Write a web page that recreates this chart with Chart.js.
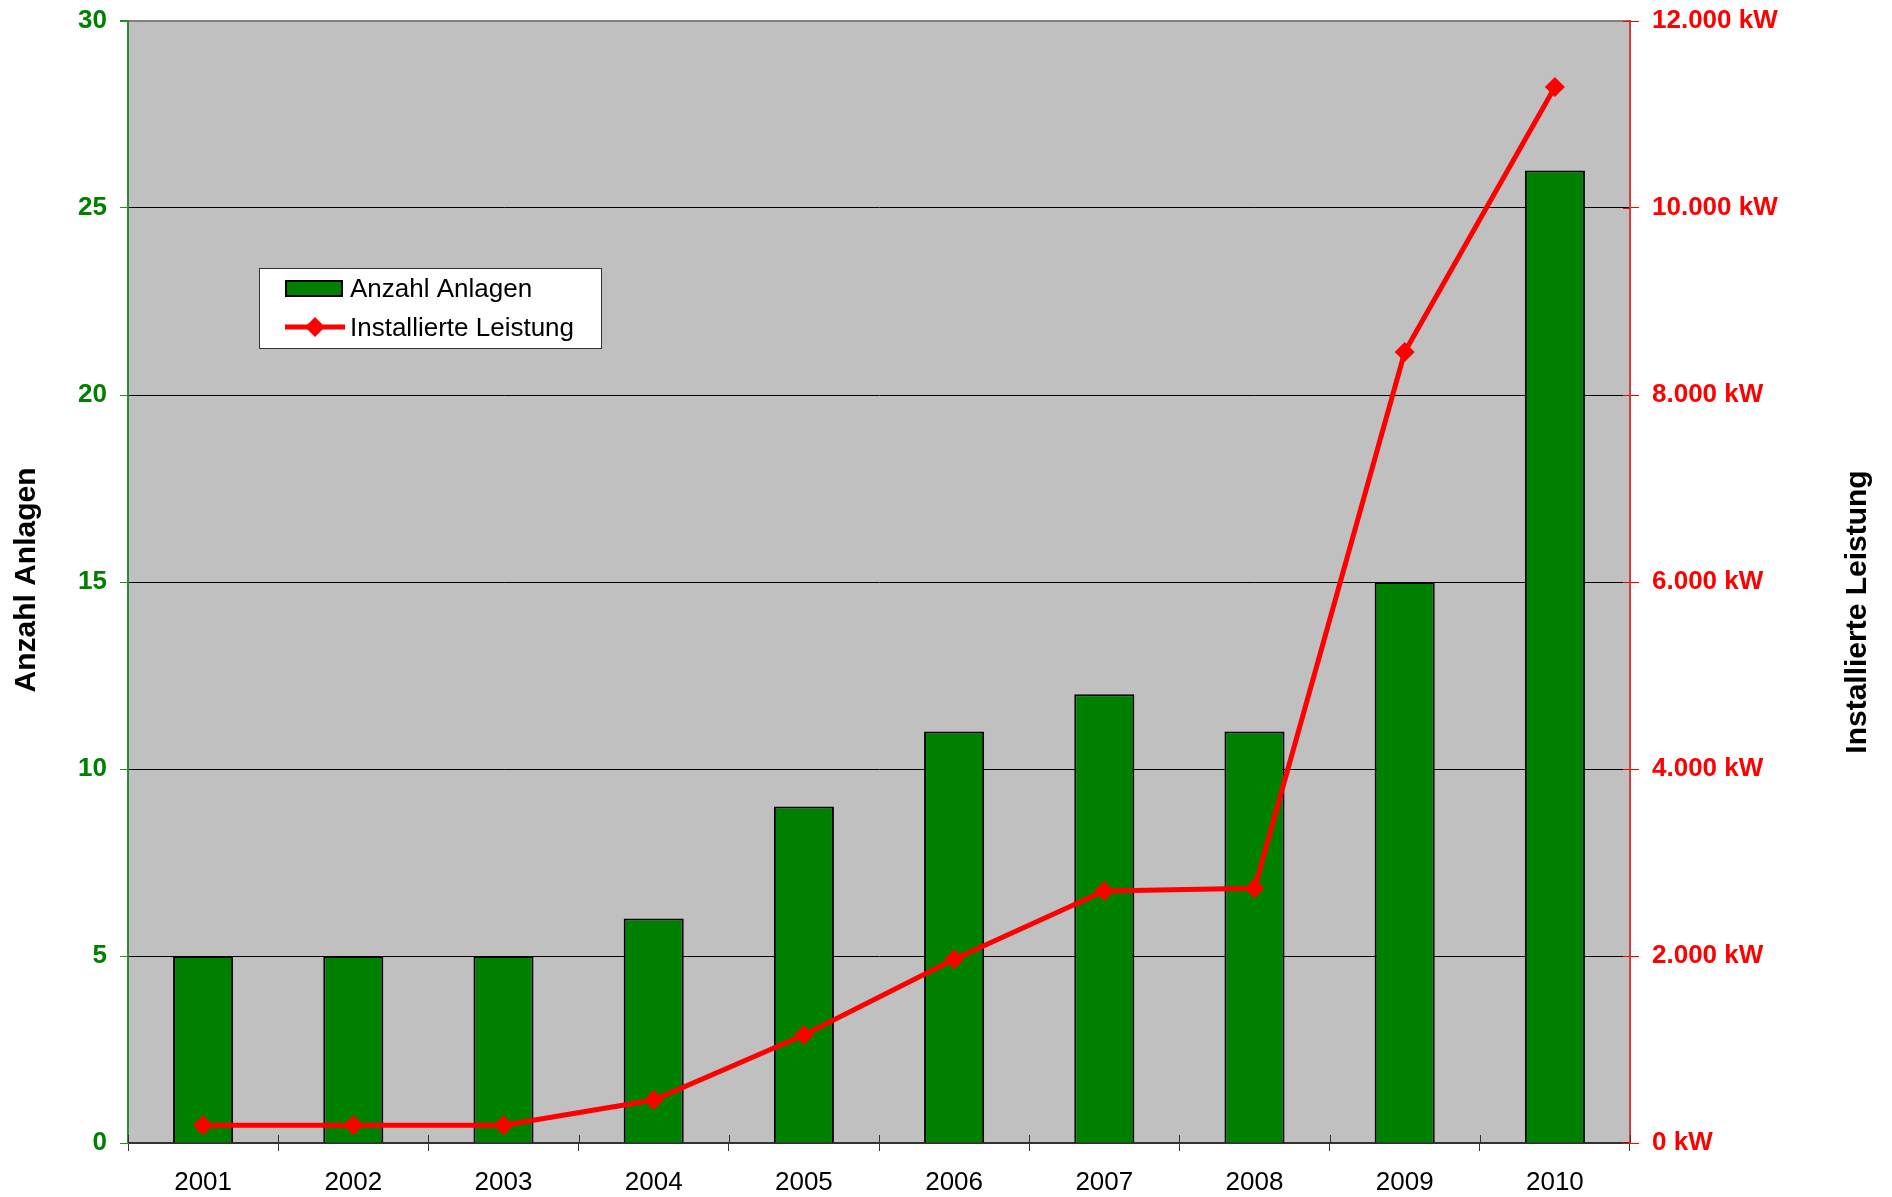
<!DOCTYPE html>
<html>
<head>
<meta charset="utf-8">
<script src="https://cdn.jsdelivr.net/npm/chart.js@4.4.1/dist/chart.umd.min.js"></script>
<style>
  html, body { margin: 0; padding: 0; background: #ffffff; }
  #wrap { width: 1892px; height: 1197px; position: relative; }
</style>
</head>
<body>
<div id="wrap"><canvas id="c"></canvas></div>
<script>
const years = ['2001','2002','2003','2004','2005','2006','2007','2008','2009','2010'];
const anzahlAnlagen = [5, 5, 5, 6, 9, 11, 12, 11, 15, 26];
const installierteLeistungKW = [190, 190, 190, 460, 1155, 1965, 2695, 2725, 8460, 11295];
const leftAxisTitle = 'Anzahl Anlagen';
const rightAxisTitle = 'Installierte Leistung';

const FONT = "'Liberation Sans', Arial, sans-serif";

function fmtKW(v) {
  const s = String(Math.round(v)).replace(/\B(?=(\d{3})+(?!\d))/g, '.');
  return s + ' kW';
}

const decorPlugin = {
  id: 'decor',
  beforeDraw(chart) {
    const { ctx, chartArea: a } = chart;
    ctx.save();
    ctx.fillStyle = '#C0C0C0';
    ctx.fillRect(a.left, a.top, a.right - a.left, a.bottom - a.top);
    ctx.restore();
  },
  beforeDatasetsDraw(chart) {
    // small inner parts of the crossing tick marks
    const { ctx, chartArea: a, scales } = chart;
    ctx.save();
    ctx.lineWidth = 1;
    ctx.strokeStyle = '#333333';
    const xs = scales.x;
    const n = years.length;
    const step = (xs.getPixelForValue(1) - xs.getPixelForValue(0));
    for (let i = 0; i <= n; i++) {
      const px = Math.round(xs.getPixelForValue(i) - step / 2) + 0.5;
      ctx.beginPath();
      ctx.moveTo(px, a.bottom - 8);
      ctx.lineTo(px, a.bottom);
      ctx.stroke();
    }
    ctx.strokeStyle = '#FF0000';
    const ys = scales.y1;
    ys.ticks.forEach((t) => {
      const py = Math.round(ys.getPixelForValue(t.value)) + 0.5;
      ctx.beginPath();
      ctx.moveTo(a.right - 7, py);
      ctx.lineTo(a.right, py);
      ctx.stroke();
    });
    ctx.restore();
  },
  afterDraw(chart) {
    const { ctx } = chart;
    ctx.save();
    // axis titles
    ctx.font = "bold 30px " + FONT;
    ctx.fillStyle = '#000';
    ctx.textAlign = 'center';
    ctx.textBaseline = 'middle';
    ctx.save();
    ctx.translate(27, 580);
    ctx.rotate(-Math.PI / 2);
    ctx.fillText(leftAxisTitle, 0, 0);
    ctx.restore();
    ctx.save();
    ctx.translate(1858, 612);
    ctx.rotate(-Math.PI / 2);
    ctx.fillText(rightAxisTitle, 0, 0);
    ctx.restore();

    // legend box
    const ds = chart.data.datasets;
    const barDs = ds.find(d => d.type === 'bar');
    const lineDs = ds.find(d => d.type === 'line');
    ctx.fillStyle = '#ffffff';
    ctx.fillRect(259, 268, 342, 80);
    ctx.strokeStyle = '#333333';
    ctx.lineWidth = 1;
    ctx.strokeRect(259.5, 268.5, 342, 80);
    // bar swatch
    ctx.fillStyle = barDs.backgroundColor;
    ctx.fillRect(285, 280, 58, 17);
    ctx.strokeStyle = '#000';
    ctx.lineWidth = 2;
    ctx.strokeRect(286, 281, 56, 15);
    // line swatch
    ctx.strokeStyle = lineDs.borderColor;
    ctx.lineWidth = 5;
    ctx.beginPath();
    ctx.moveTo(285, 327);
    ctx.lineTo(345, 327);
    ctx.stroke();
    ctx.fillStyle = lineDs.borderColor;
    ctx.beginPath();
    ctx.moveTo(315 - 10, 327);
    ctx.lineTo(315, 317);
    ctx.lineTo(315 + 10, 327);
    ctx.lineTo(315, 337);
    ctx.closePath();
    ctx.fill();
    // legend text
    ctx.font = "26px " + FONT;
    ctx.fillStyle = '#000';
    ctx.textAlign = 'left';
    ctx.textBaseline = 'middle';
    ctx.fillText(barDs.label, 350, 290);
    ctx.fillText(lineDs.label, 350, 329);
    ctx.restore();
  }
};

const ctx = document.getElementById('c').getContext('2d');
new Chart(ctx, {
  data: {
    labels: years,
    datasets: [
      {
        type: 'line',
        label: 'Installierte Leistung',
        data: installierteLeistungKW,
        yAxisID: 'y1',
        borderColor: '#FF0000',
        backgroundColor: '#FF0000',
        borderWidth: 5,
        pointStyle: 'rectRot',
        pointRadius: 10,
        pointHoverRadius: 10,
        pointBorderWidth: 0,
        pointBackgroundColor: '#FF0000',
        tension: 0,
        order: 0
      },
      {
        type: 'bar',
        label: 'Anzahl Anlagen',
        data: anzahlAnlagen,
        yAxisID: 'y',
        backgroundColor: '#008000',
        borderColor: '#000000',
        borderWidth: 2,
        barPercentage: 0.4,
        categoryPercentage: 1.0,
        order: 1
      }
    ]
  },
  options: {
    responsive: true,
    maintainAspectRatio: false,
    animation: false,
    events: [],
    layout: { padding: { top: 21, left: 0, right: 0, bottom: 0 } },
    plugins: {
      legend: { display: false },
      tooltip: { enabled: false },
      title: { display: false }
    },
    scales: {
      x: {
        type: 'category',
        offset: true,
        grid: {
          offset: true,
          drawOnChartArea: false,
          drawTicks: true,
          tickLength: 8,
          tickColor: '#333333',
          lineWidth: 1
        },
        border: { display: true, color: '#333333', width: 2 },
        ticks: {
          color: '#000000',
          font: { family: FONT, size: 26 },
          padding: 16,
          maxRotation: 0,
          autoSkip: false
        },
        afterFit(scale) { scale.height = 54; scale.paddingLeft = 0; scale.paddingRight = 0; }
      },
      y: {
        type: 'linear',
        position: 'left',
        min: 0,
        max: 30,
        grid: {
          color: (c) => (c.tick && c.tick.value === 30) ? '#808080' : (c.tick && c.tick.value === 0 ? 'rgba(0,0,0,0)' : '#000000'),
          lineWidth: (c) => (c.tick && c.tick.value === 30) ? 2 : 1,
          tickColor: '#228B22',
          tickLength: 8,
          drawOnChartArea: true
        },
        border: { display: true, color: '#2E8B2E', width: 2 },
        ticks: {
          stepSize: 5,
          color: '#008000',
          font: { family: FONT, size: 26, weight: 'bold' },
          padding: 13
        },
        afterFit(scale) { scale.width = 128; scale.paddingTop = 0; scale.paddingBottom = 0; }
      },
      y1: {
        type: 'linear',
        position: 'right',
        min: 0,
        max: 12000,
        grid: {
          drawOnChartArea: false,
          tickColor: '#FF0000',
          tickLength: 9
        },
        border: { display: true, color: '#D04040', width: 2 },
        ticks: {
          stepSize: 2000,
          color: '#FF0000',
          font: { family: FONT, size: 26, weight: 'bold' },
          padding: 13,
          callback: (v) => fmtKW(v)
        },
        afterFit(scale) { scale.width = 262; scale.paddingTop = 0; scale.paddingBottom = 0; }
      }
    }
  },
  plugins: [decorPlugin]
});
</script>
</body>
</html>
